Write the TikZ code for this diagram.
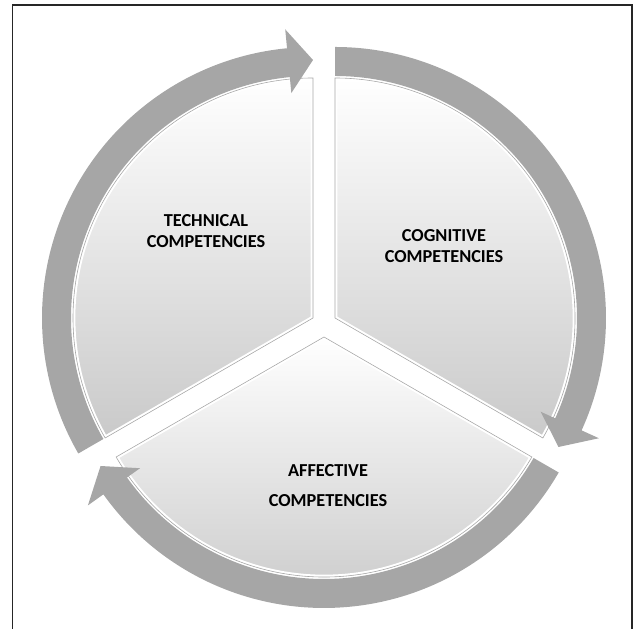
\documentclass[tikz,border=0pt]{standalone}
\usepackage{fontspec}
\setmainfont{Carlito}
\usepackage{tikz}

\definecolor{ringgray}{gray}{0.65}
\definecolor{pieedge}{gray}{0.66}
\definecolor{pielow}{gray}{0.79}

% one slice of the pie, radius 240, between two angles
\newcommand{\pieslice}[2]{(0,0) -- (#1:240) arc[start angle=#1, end angle=#2, radius=240] -- cycle}
% curved arrow running clockwise from tail angle #1 to tip angle #2
\newcommand{\cyclearrow}[2]{(#1:242) arc[start angle=#1, end angle=#2+5.5, radius=242]
	-- (#2+5.5:226) -- (#2:258) -- (#2+5.5:290) -- (#2+5.5:271)
	arc[start angle=#2+5.5, end angle=#1, radius=271] -- cycle}

\tikzset{
	ring/.style={fill=ringgray},
	piece/.style={top color=white, bottom color=pielow},
	bevel/.style={white, line width=4pt},
	rim/.style={draw=pieedge, line width=0.5pt},
	caption/.style={font=\bfseries\fontsize{15.6}{17.5}\selectfont, align=center, text=black}
}

\begin{document}
\begin{tikzpicture}[x=0.03cm, y=0.03cm]
\useasboundingbox (0,0) rectangle (635,629);
%	frame
\draw[line width=1.1pt, black!85] (12.5,0) -- (12.5,624) -- (632,624) -- (632,0);

%	technical
\begin{scope}[shift={(313,311)}]
	\path[piece] \pieslice{90}{210};
	\begin{scope}
		\clip \pieslice{90}{210};
		\draw[bevel] \pieslice{90}{210};
	\end{scope}
	\draw[rim] \pieslice{90}{210};
	\fill[ring] \cyclearrow{210}{90};
\end{scope}

%	cognitive
\begin{scope}[shift={(335,311)}]
	\path[piece] \pieslice{-30}{90};
	\begin{scope}
		\clip \pieslice{-30}{90};
		\draw[bevel] \pieslice{-30}{90};
	\end{scope}
	\draw[rim] \pieslice{-30}{90};
	\fill[ring] \cyclearrow{90}{-30};
\end{scope}

%	affective
\begin{scope}[shift={(324,292)}]
	\path[piece] \pieslice{210}{330};
	\begin{scope}
		\clip \pieslice{210}{330};
		\draw[bevel] \pieslice{210}{330};
	\end{scope}
	\draw[rim] \pieslice{210}{330};
	\fill[ring] \cyclearrow{330}{210};
\end{scope}

%	labels
\node[caption] (technical) at (206,398) {TECHNICAL\\COMPETENCIES};
\node[caption] (cognitive) at (444,383) {COGNITIVE\\COMPETENCIES};
\node[caption] (affective) at (328,143) {AFFECTIVE\\[8pt]COMPETENCIES};
\end{tikzpicture}
\end{document}
